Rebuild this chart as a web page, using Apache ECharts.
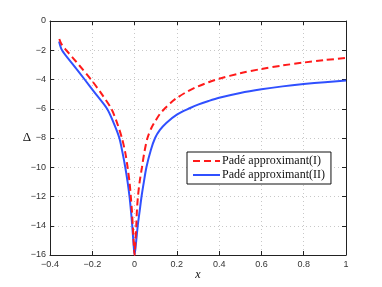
<!DOCTYPE html>
<html>
<head>
<meta charset="utf-8">
<script src="https://cdn.jsdelivr.net/npm/echarts@6/dist/echarts.min.js"></script>
<style>html,body{margin:0;padding:0;background:#fff}#c{width:382px;height:287px}</style>
</head>
<body>
<div id="c"></div>
<script>
const seriesNames = ['Padé approximant(I)', 'Padé approximant(II)'];
const xTicks = [-0.4, -0.2, 0, 0.2, 0.4, 0.6, 0.8, 1];
const yTicks = [0, -2, -4, -6, -8, -10, -12, -14, -16];

const xPadeI = [-0.356, -0.345, -0.323, -0.29, -0.26, -0.206, -0.155, -0.11, -0.082, -0.06, -0.044, -0.033, -0.024, -0.0178, -0.0125, -0.0085, -0.0045, 0,
                0.004, 0.008, 0.011, 0.016, 0.024, 0.035, 0.046, 0.061, 0.08, 0.1, 0.12, 0.145, 0.17, 0.2, 0.25, 0.3, 0.35, 0.4, 0.5, 0.6, 0.7, 0.8, 0.9, 1.0];
const yPadeI = [-1.23, -1.6, -2.0, -2.55, -3.06, -4.0, -5.0, -6.0, -7.0, -8.0, -9.0, -10.0, -11.0, -12.0, -13.0, -14.0, -15.0, -16.0,
                -15.0, -14.0, -13.0, -12.0, -11.0, -10.0, -9.0, -8.0, -7.3, -6.8, -6.35, -5.95, -5.6, -5.26, -4.82, -4.47, -4.19, -3.95, -3.57, -3.28, -3.04, -2.84, -2.67, -2.53];

const xPadeII = [-0.357, -0.343, -0.29, -0.236, -0.183, -0.13, -0.098, -0.072, -0.057, -0.044, -0.033, -0.024, -0.017, -0.011, -0.006, 0,
                 0.008, 0.015, 0.024, 0.033, 0.044, 0.056, 0.077, 0.097, 0.12, 0.15, 0.2, 0.263, 0.3, 0.35, 0.4, 0.5, 0.6, 0.7, 0.8, 0.9, 1.0];
const yPadeII = [-1.4, -2.0, -3.0, -4.0, -5.0, -6.0, -7.0, -8.0, -9.0, -10.0, -11.0, -12.0, -13.0, -14.0, -15.0, -16.0,
                 -15.0, -14.0, -13.0, -12.0, -11.0, -10.0, -8.82, -8.0, -7.45, -6.97, -6.4, -5.95, -5.72, -5.47, -5.25, -4.92, -4.67, -4.47, -4.31, -4.18, -4.07];

const pairs = (xs, ys) => xs.map((x, i) => [x, ys[i]]);

const chart = echarts.init(document.getElementById('c'), null, {renderer: 'canvas'});
const gridLine = {show: true, lineStyle: {color: '#c8c8c8', type: [1, 3], width: 1}};
const tickIn = {show: true, inside: true, length: 4, lineStyle: {color: '#222', width: 1}};
const axLine = {show: true, onZero: false, lineStyle: {color: '#222', width: 1}};
const labelStyle = {color: '#333', fontFamily: 'Liberation Sans', fontSize: 9};

chart.setOption({
  animation: false,
  backgroundColor: '#fff',
  grid: {left: 50, right: 36, top: 21, bottom: 32, containLabel: false, outerBoundsMode: 'none'},
  legend: {
    data: seriesNames,
    orient: 'vertical',
    left: 187, top: 152,
    backgroundColor: '#fff',
    borderColor: '#111', borderWidth: 1,
    padding: [3, 6, 3, 5],
    itemWidth: 27, itemHeight: 10, itemGap: 2,
    itemStyle: {opacity: 0},
    textStyle: {fontFamily: 'Liberation Serif', fontSize: 12, color: '#111', padding: [0, 0, 0, -3]}
  },
  xAxis: [
    {type: 'value', min: -0.4, max: 1, interval: 0.2, position: 'bottom',
     axisLine: axLine, axisTick: tickIn, splitLine: gridLine,
     axisLabel: Object.assign({margin: 5, formatter: v => {
       const t = xTicks.find(k => Math.abs(k - v) < 1e-9);
       return t === undefined ? '' : String(t).replace('-', '\u2212');
     }}, labelStyle),
     name: 'x', nameLocation: 'middle', nameGap: 14, nameMoveOverlap: false,
     nameTextStyle: {fontFamily: 'Liberation Serif', fontStyle: 'italic', fontSize: 12, color: '#111'}},
    {type: 'value', min: -0.4, max: 1, interval: 0.2, position: 'top',
     axisLine: axLine, axisTick: tickIn, splitLine: {show: false}, axisLabel: {show: false}}
  ],
  yAxis: [
    {type: 'value', min: -16, max: 0, interval: 2, position: 'left',
     axisLine: axLine, axisTick: tickIn, splitLine: gridLine,
     axisLabel: Object.assign({margin: 4, formatter: v => String(v).replace('-', '\u2212')}, labelStyle),
     name: 'Δ', nameLocation: 'middle', nameGap: 19, nameRotate: 0, nameMoveOverlap: false,
     nameTextStyle: {fontFamily: 'Liberation Serif', fontSize: 13, color: '#111', padding: [0, 0, 8, 0]}},
    {type: 'value', min: -16, max: 0, interval: 2, position: 'right',
     axisLine: axLine, axisTick: tickIn, splitLine: {show: false}, axisLabel: {show: false}}
  ],
  series: [
    {name: seriesNames[0], type: 'line', data: pairs(xPadeI, yPadeI),
     symbol: 'none', smooth: 0.3,
     lineStyle: {color: '#ff1a1a', width: 2, type: [7, 4]}, itemStyle: {color: '#ff1a1a'}, z: 3},
    {name: seriesNames[1], type: 'line', data: pairs(xPadeII, yPadeII),
     symbol: 'none', smooth: 0.3,
     lineStyle: {color: '#3050ff', width: 2}, itemStyle: {color: '#3050ff'}, z: 2}
  ]
});
</script>
</body>
</html>
